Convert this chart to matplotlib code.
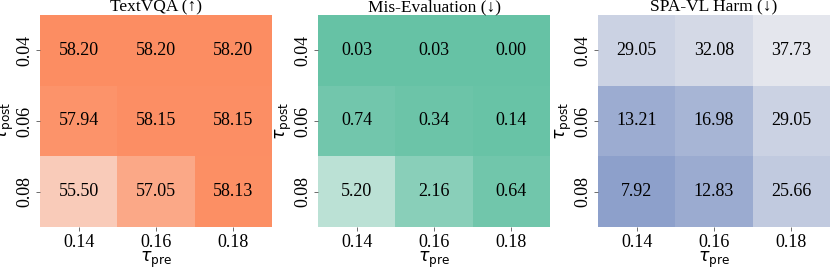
import matplotlib
matplotlib.use("Agg")
import matplotlib.pyplot as plt
import numpy as np
from matplotlib.colors import LinearSegmentedColormap

# ---- data ----
tau_pre = ["0.14", "0.16", "0.18"]
tau_post = ["0.04", "0.06", "0.08"]
textvqa = [[58.20, 58.20, 58.20],
           [57.94, 58.15, 58.15],
           [55.50, 57.05, 58.13]]
mis_eval = [[0.03, 0.03, 0.00],
            [0.74, 0.34, 0.14],
            [5.20, 2.16, 0.64]]
spa_harm = [[29.05, 32.08, 37.73],
            [13.21, 16.98, 29.05],
            [7.92, 12.83, 25.66]]
titles = ["TextVQA (↑)", "Mis-Evaluation (↓)", "SPA-VL Harm (↓)"]

plt.rcParams["font.family"] = ["Liberation Serif", "DejaVu Serif"]
plt.rcParams["mathtext.fontset"] = "dejavusans"

W, H = 830, 267
fig = plt.figure(figsize=(W / 100, H / 100), dpi=100)

panels = [
    (textvqa, "#fc8d62", "#f7eeea", False, 54.0, 58.20),
    (mis_eval, "#66c2a5", "#e6f1ed", True, 0.0, 7.8),
    (spa_harm, "#8da0cb", "#e8e9ee", True, 7.92, 39.0),
]
lefts = [40, 318, 598]
aw, ah, bottom = 232, 212, 40

for i, (vals, full, light, rev, vmin, vmax) in enumerate(panels):
    arr = np.array(vals)
    cols = [full, light] if rev else [light, full]
    cmap = LinearSegmentedColormap.from_list(f"c{i}", cols)
    ax = fig.add_axes([lefts[i] / W, bottom / H, aw / W, ah / H])
    ax.pcolormesh(np.arange(4), np.arange(4), arr, cmap=cmap, vmin=vmin, vmax=vmax,
                  edgecolor="face", linewidth=0)
    ax.set_xlim(0, 3)
    ax.set_ylim(3, 0)
    for r in range(3):
        for c in range(3):
            ax.text(c + 0.5, r + 0.5, f"{arr[r, c]:.2f}", ha="center", va="center",
                    fontsize=13, color="black")
    ax.set_xticks(np.arange(3) + 0.5)
    ax.set_xticklabels(tau_pre, fontsize=13)
    ax.set_yticks(np.arange(3) + 0.5)
    ax.set_yticklabels(tau_post, fontsize=13, rotation=90, va="center")
    ax.tick_params(length=3, width=0.6, color="#555555", pad=2)
    for s in ax.spines.values():
        s.set_visible(False)
    ax.set_title(titles[i], fontsize=12.5, pad=1)
    ax.set_xlabel(r"$\tau_{\rm pre}$", fontsize=12.5, labelpad=-1)
    ax.set_ylabel(r"$\tau_{\rm post}$", fontsize=12.5, labelpad=0)

fig.savefig("out.png", dpi=100)
